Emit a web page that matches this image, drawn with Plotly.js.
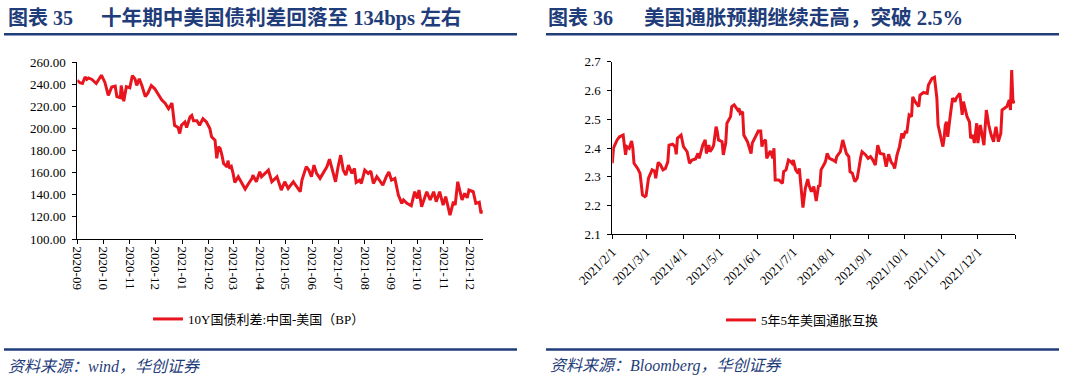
<!DOCTYPE html>
<html><head><meta charset="utf-8">
<script src="https://cdn.plot.ly/plotly-3.0.1.min.js"></script>
<style>html,body{margin:0;padding:0;background:#fff;}#chart{width:1068px;height:382px;}</style>
</head><body><div id="chart"></div>
<script>
// ---------- data ----------
const leftTitleNo = '图表 35';
const leftTitle = '十年期中美国债利差回落至 134bps 左右';
const rightTitleNo = '图表 36';
const rightTitle = '美国通胀预期继续走高，突破 2.5%';
const leftSource = '资料来源：wind，华创证券';
const rightSource = '资料来源：Bloomberg，华创证券';
const leftSeriesName = '10Y国债利差:中国-美国（BP）';
const rightSeriesName = '5年5年美国通胀互换';

const leftDates = ['2020-09-01','2020-09-04','2020-09-07','2020-09-10','2020-09-12','2020-09-14','2020-09-18','2020-09-23','2020-09-29','2020-10-03','2020-10-07','2020-10-11','2020-10-15','2020-10-17','2020-10-21','2020-10-22','2020-10-25','2020-10-28','2020-11-01','2020-11-04','2020-11-07','2020-11-09','2020-11-12','2020-11-15','2020-11-19','2020-11-22','2020-11-26','2020-11-30','2020-12-04','2020-12-08','2020-12-12','2020-12-16','2020-12-20','2020-12-21','2020-12-23','2020-12-27','2020-12-29','2020-12-31','2021-01-04','2021-01-06','2021-01-10','2021-01-12','2021-01-14','2021-01-18','2021-01-21','2021-01-25','2021-01-29','2021-02-02','2021-02-04','2021-02-08','2021-02-10','2021-02-12','2021-02-14','2021-02-16','2021-02-18','2021-02-22','2021-02-23','2021-02-25','2021-02-27','2021-03-01','2021-03-03','2021-03-07','2021-03-09','2021-03-15','2021-03-19','2021-03-23','2021-03-24','2021-03-28','2021-04-01','2021-04-03','2021-04-09','2021-04-11','2021-04-15','2021-04-21','2021-04-26','2021-04-30','2021-05-04','2021-05-10','2021-05-14','2021-05-18','2021-05-20','2021-05-25','2021-05-28','2021-05-31','2021-06-03','2021-06-06','2021-06-10','2021-06-14','2021-06-18','2021-06-21','2021-06-25','2021-06-28','2021-07-01','2021-07-04','2021-07-07','2021-07-10','2021-07-13','2021-07-17','2021-07-20','2021-07-22','2021-07-26','2021-07-28','2021-08-01','2021-08-05','2021-08-08','2021-08-11','2021-08-15','2021-08-18','2021-08-22','2021-08-26','2021-08-29','2021-09-01','2021-09-05','2021-09-09','2021-09-13','2021-09-15','2021-09-19','2021-09-24','2021-09-28','2021-10-01','2021-10-03','2021-10-06','2021-10-12','2021-10-16','2021-10-20','2021-10-23','2021-10-27','2021-10-31','2021-11-03','2021-11-08','2021-11-12','2021-11-14','2021-11-17','2021-11-22','2021-11-25','2021-11-28','2021-11-30','2021-12-05','2021-12-08','2021-12-12','2021-12-14','2021-12-16'];
const leftValues = [243.7,241.5,240.8,246.7,244.5,245.8,244.5,240.8,248.3,242,230,237.7,238.5,229,228,239,224.8,238,237,248,245,239,245,239,229,232,239,236,231,226,223,218,223,215,203,201,195.5,203,206,201,210.6,212,207,207,203,209,206,200,192.5,189.5,173,183.5,182,176,168.4,165.3,171,164,165.5,159.4,151.3,156.4,153.4,145.2,150.3,154.8,157.8,151.8,160.8,156.4,160.8,162.4,151.8,156.3,144.3,151.8,145.8,151.8,147.3,142.8,153.3,165.4,162.4,156.4,166.9,159.4,154.9,160.8,165.4,172.3,160.8,151.8,165.4,175.9,162.4,157.8,166.9,159.4,163.9,151.3,153.3,150.3,162.4,159.4,161.5,150.3,156.4,153.3,148.8,156.4,160.8,153.3,154.9,139.8,132.3,135.3,132.3,130.1,142.8,136.8,144.3,129.2,142.8,135.3,142.8,133.8,142.8,130.7,138.3,121.7,133.8,130.7,151.8,135.3,141.3,137.3,144.3,142.8,132.3,133.3,123.2,126.2];
const leftRange = ['2020-09-01','2021-12-16'];
const leftTickVals = ['2020-09-01','2020-10-01','2020-11-01','2020-12-01','2021-01-01','2021-02-01','2021-03-01','2021-04-01','2021-05-01','2021-06-01','2021-07-01','2021-08-01','2021-09-01','2021-10-01','2021-11-01','2021-12-01'];
const leftTickText = ['2020-09','2020-10','2020-11','2020-12','2021-01','2021-02','2021-03','2021-04','2021-05','2021-06','2021-07','2021-08','2021-09','2021-10','2021-11','2021-12'];
const leftYTicks = [100,120,140,160,180,200,220,240,260];

const rightDates = ['2021-02-01','2021-02-02','2021-02-05','2021-02-07','2021-02-09','2021-02-10','2021-02-11','2021-02-12','2021-02-13','2021-02-15','2021-02-17','2021-02-18','2021-02-19','2021-02-22','2021-02-24','2021-02-25','2021-02-26','2021-02-28','2021-03-01','2021-03-03','2021-03-05','2021-03-06','2021-03-08','2021-03-09','2021-03-11','2021-03-13','2021-03-15','2021-03-17','2021-03-19','2021-03-20','2021-03-23','2021-03-25','2021-03-26','2021-03-27','2021-03-30','2021-04-01','2021-04-03','2021-04-04','2021-04-06','2021-04-08','2021-04-11','2021-04-13','2021-04-14','2021-04-17','2021-04-19','2021-04-20','2021-04-22','2021-04-23','2021-04-25','2021-04-26','2021-04-28','2021-04-29','2021-04-30','2021-05-03','2021-05-04','2021-05-06','2021-05-07','2021-05-10','2021-05-11','2021-05-13','2021-05-14','2021-05-16','2021-05-17','2021-05-18','2021-05-20','2021-05-21','2021-05-24','2021-05-25','2021-05-27','2021-05-28','2021-05-31','2021-06-02','2021-06-04','2021-06-05','2021-06-06','2021-06-08','2021-06-09','2021-06-12','2021-06-14','2021-06-15','2021-06-16','2021-06-19','2021-06-22','2021-06-23','2021-06-25','2021-06-27','2021-06-29','2021-06-30','2021-07-01','2021-07-03','2021-07-05','2021-07-06','2021-07-09','2021-07-11','2021-07-13','2021-07-14','2021-07-16','2021-07-18','2021-07-20','2021-07-22','2021-07-23','2021-07-24','2021-07-27','2021-07-28','2021-07-29','2021-07-31','2021-08-03','2021-08-05','2021-08-06','2021-08-09','2021-08-11','2021-08-12','2021-08-14','2021-08-16','2021-08-17','2021-08-19','2021-08-21','2021-08-23','2021-08-25','2021-08-26','2021-08-27','2021-08-30','2021-09-01','2021-09-03','2021-09-05','2021-09-07','2021-09-09','2021-09-11','2021-09-14','2021-09-16','2021-09-18','2021-09-20','2021-09-22','2021-09-23','2021-09-25','2021-09-27','2021-09-29','2021-09-30','2021-10-02','2021-10-03','2021-10-05','2021-10-07','2021-10-08','2021-10-10','2021-10-13','2021-10-14','2021-10-17','2021-10-20','2021-10-21','2021-10-24','2021-10-26','2021-10-28','2021-10-29','2021-10-31','2021-11-02','2021-11-03','2021-11-04','2021-11-05','2021-11-06','2021-11-08','2021-11-10','2021-11-12','2021-11-13','2021-11-16','2021-11-18','2021-11-19','2021-11-22','2021-11-24','2021-11-25','2021-11-27','2021-11-28','2021-11-30','2021-12-01','2021-12-03','2021-12-05','2021-12-06','2021-12-08','2021-12-10','2021-12-12','2021-12-14','2021-12-15','2021-12-16','2021-12-18','2021-12-20','2021-12-21','2021-12-23','2021-12-25','2021-12-27','2021-12-28','2021-12-29','2021-12-30','2021-12-31'];
const rightValues = [2.347,2.40,2.428,2.439,2.443,2.445,2.41,2.376,2.405,2.399,2.424,2.40,2.347,2.329,2.312,2.26,2.237,2.231,2.234,2.295,2.312,2.324,2.32,2.295,2.35,2.341,2.324,2.329,2.352,2.41,2.413,2.405,2.378,2.434,2.445,2.405,2.393,2.387,2.347,2.358,2.362,2.381,2.364,2.41,2.428,2.381,2.41,2.387,2.40,2.41,2.474,2.457,2.428,2.422,2.376,2.417,2.486,2.509,2.544,2.55,2.544,2.532,2.538,2.52,2.526,2.445,2.422,2.41,2.381,2.417,2.445,2.459,2.459,2.405,2.422,2.428,2.364,2.39,2.364,2.399,2.289,2.289,2.277,2.318,2.324,2.358,2.352,2.347,2.358,2.324,2.312,2.329,2.193,2.26,2.292,2.271,2.248,2.266,2.216,2.271,2.266,2.324,2.347,2.358,2.381,2.364,2.358,2.352,2.37,2.387,2.428,2.41,2.381,2.37,2.318,2.312,2.283,2.295,2.358,2.37,2.387,2.376,2.364,2.37,2.358,2.341,2.41,2.381,2.378,2.335,2.378,2.352,2.341,2.329,2.376,2.405,2.451,2.434,2.459,2.451,2.515,2.509,2.578,2.561,2.544,2.584,2.593,2.59,2.619,2.642,2.646,2.573,2.48,2.445,2.405,2.434,2.48,2.491,2.439,2.509,2.573,2.561,2.573,2.59,2.515,2.561,2.509,2.491,2.434,2.445,2.417,2.486,2.417,2.48,2.422,2.41,2.532,2.48,2.445,2.422,2.451,2.474,2.422,2.451,2.532,2.538,2.544,2.567,2.532,2.671,2.567,2.555];
const rightRange = ['2021-02-01','2022-01-01'];
const rightTickVals = ['2021-02-01','2021-03-01','2021-04-01','2021-05-01','2021-06-01','2021-07-01','2021-08-01','2021-09-01','2021-10-01','2021-11-01','2021-12-01','2022-01-01'];
const rightTickText = ['2021/2/1','2021/3/1','2021/4/1','2021/5/1','2021/6/1','2021/7/1','2021/8/1','2021/9/1','2021/10/1','2021/11/1','2021/12/1',''];
const rightYTicks = [2.1,2.2,2.3,2.4,2.5,2.6,2.7];

// ---------- layout helpers ----------
const W = 1068, H = 382;
const fx = p => p / W;
const fy = p => 1 - p / H;
const RED = '#e8141e';
const NAVY = '#1f3d7a';
const SERIF = 'Liberation Serif, Noto Sans CJK SC, serif';

const axisBase = {
  showline: true, linecolor: '#000', linewidth: 1, mirror: false,
  showgrid: false, zeroline: false, ticks: 'outside', ticklen: 4,
  tickcolor: '#000', tickwidth: 1, fixedrange: true,
  tickfont: {family: SERIF, size: 13, color: '#000'}
};

const traces = [
  {type: 'scatter', mode: 'lines', x: leftDates, y: leftValues, name: leftSeriesName,
   line: {color: RED, width: 3}, xaxis: 'x', yaxis: 'y', legend: 'legend', hoverinfo: 'skip'},
  {type: 'scatter', mode: 'lines', x: rightDates, y: rightValues, name: rightSeriesName,
   line: {color: RED, width: 3}, xaxis: 'x2', yaxis: 'y2', legend: 'legend2', hoverinfo: 'skip'}
];

const hline = (x0, x1, y) => ({type: 'line', xref: 'paper', yref: 'paper', x0: fx(x0), x1: fx(x1),
  y0: fy(y), y1: fy(y), line: {color: NAVY, width: 2.5}});
const ann = (text, x, y, font) => ({text, x: fx(x), y: fy(y), xref: 'paper', yref: 'paper',
  xanchor: 'left', yanchor: 'middle', showarrow: false, font});
const titleFont = {family: SERIF, size: 20, color: NAVY, weight: 'bold'};
const titleFontMain = {family: SERIF, size: 20.6, color: NAVY, weight: 'bold'};
const srcFont = {family: SERIF, size: 16, color: NAVY, style: 'italic'};

const layout = {
  width: W, height: H, margin: {l: 0, r: 0, t: 0, b: 0},
  paper_bgcolor: '#fff', plot_bgcolor: '#fff', showlegend: true,
  xaxis: Object.assign({}, axisBase, {domain: [fx(77.3), fx(482.7)], anchor: 'y', type: 'date',
    range: leftRange, tickmode: 'array', tickvals: leftTickVals, ticktext: leftTickText, tickangle: 90}),
  yaxis: Object.assign({}, axisBase, {domain: [fy(239), fy(62.3)], anchor: 'x',
    range: [100, 260], tickmode: 'array', tickvals: leftYTicks, tickformat: '.2f', ticklabelstandoff: 4}),
  xaxis2: Object.assign({}, axisBase, {domain: [fx(612.3), fx(1015.3)], anchor: 'y2', type: 'date',
    range: rightRange, tickmode: 'array', tickvals: rightTickVals, ticktext: rightTickText, tickangle: -45}),
  yaxis2: Object.assign({}, axisBase, {domain: [fy(234.3), fy(61.7)], anchor: 'x2',
    range: [2.1, 2.7], tickmode: 'array', tickvals: rightYTicks, tickformat: '.1f', ticklabelstandoff: 4}),
  legend: {x: fx(148), y: fy(319), xanchor: 'left', yanchor: 'middle', orientation: 'h',
    bgcolor: 'rgba(0,0,0,0)', borderwidth: 0, font: {family: SERIF, size: 13, color: '#000'}},
  legend2: {x: fx(721), y: fy(320), xanchor: 'left', yanchor: 'middle', orientation: 'h',
    bgcolor: 'rgba(0,0,0,0)', borderwidth: 0, font: {family: SERIF, size: 13, color: '#000'}},
  shapes: [hline(4, 517, 34.3), hline(546, 1059, 34.3), hline(4, 517, 349.5), hline(546, 1059, 349.5)],
  annotations: [
    ann(leftTitleNo, 6, 18, titleFont), ann(leftTitle, 99, 18, titleFontMain),
    ann(rightTitleNo, 546, 18, titleFont), ann(rightTitle, 642, 18, titleFontMain),
    ann(leftSource, 6, 366, srcFont), ann(rightSource, 548, 366, srcFont)
  ]
};

Plotly.newPlot('chart', traces, layout, {staticPlot: true, displayModeBar: false});
</script></body></html>
